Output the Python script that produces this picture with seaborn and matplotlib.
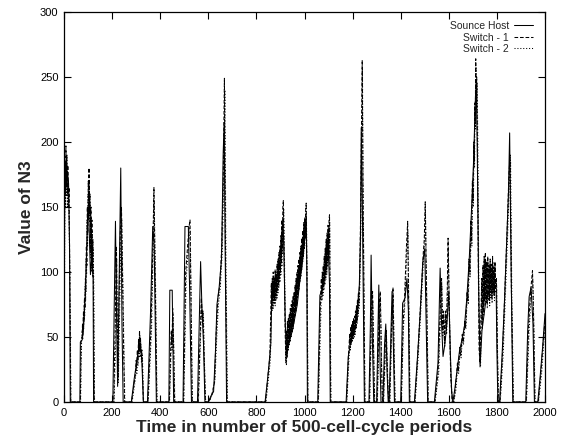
import pandas as pd
import matplotlib.pyplot as plt
import seaborn as sns

# (time, N3) points
source_host = [
    (0, 0), (3, 165), (7, 177), (11, 172), (15, 176), (19, 168), (23, 120), (26, 0),
    (66, 0), (68, 46), (76, 48), (82, 60), (88, 80), (94, 115), (98, 140), (102, 150), (106, 125),
    (110, 98), (114, 108), (118, 104), (121, 95), (123, 0),
    (203, 0), (214, 139), (219, 60), (223, 12), (236, 180), (241, 60), (246, 0),
    (280, 0), (292, 18), (302, 30), (310, 40), (318, 45), (324, 30), (330, 0),
    (347, 0), (360, 70), (369, 135), (375, 120), (384, 0),
    (436, 0), (440, 86), (450, 86), (453, 40), (456, 0),
    (495, 0), (503, 135), (517, 135), (522, 90), (530, 0),
    (555, 0), (568, 108), (574, 70), (580, 45), (586, 0),
    (600, 0), (612, 5), (622, 8), (630, 40), (636, 75), (645, 88), (655, 110), (662, 192), (666, 215),
    (670, 120), (676, 0),
    (836, 0), (845, 15), (852, 28), (860, 45), (864, 82), (872, 85), (880, 92), (888, 96), (896, 105),
    (904, 125), (910, 140), (914, 120), (920, 60), (926, 35), (934, 45), (942, 50), (950, 55), (960, 65),
    (970, 75), (980, 92), (990, 105), (1000, 125), (1007, 142), (1010, 95), (1012, 0),
    (1055, 0), (1064, 82), (1072, 86), (1080, 92), (1090, 110), (1098, 125), (1104, 90), (1107, 0),
    (1173, 0), (1182, 35), (1191, 45), (1200, 50), (1210, 58), (1220, 72), (1228, 90), (1233, 130),
    (1236, 211), (1240, 160), (1244, 90), (1249, 0),
    (1268, 0), (1274, 60), (1277, 113), (1282, 50), (1288, 0),
    (1300, 0), (1305, 50), (1309, 90), (1313, 40), (1318, 0),
    (1326, 0), (1333, 45), (1338, 60), (1343, 25), (1348, 0),
    (1352, 0), (1360, 55), (1364, 85), (1370, 40), (1374, 0),
    (1400, 0), (1408, 76), (1418, 80), (1426, 95), (1432, 70), (1436, 0),
    (1457, 0), (1470, 35), (1480, 65), (1492, 108), (1500, 118), (1506, 60), (1512, 0),
    (1540, 0), (1555, 30), (1564, 103), (1570, 60), (1576, 35), (1584, 45), (1592, 60), (1600, 85),
    (1606, 40), (1612, 8), (1617, 0),
    (1625, 10), (1635, 25), (1645, 40), (1655, 48), (1665, 58), (1675, 80), (1685, 110), (1695, 150),
    (1703, 185), (1710, 230), (1714, 247), (1718, 200), (1724, 90), (1730, 27),
    (1738, 55), (1745, 65), (1752, 75), (1760, 82), (1770, 85), (1780, 85), (1797, 85), (1800, 40), (1804, 0),
    (1811, 0), (1820, 30), (1830, 70), (1840, 120), (1848, 160), (1853, 207), (1858, 120), (1866, 0),
    (1920, 0), (1928, 55), (1934, 81), (1942, 88), (1950, 60), (1956, 0),
    (1970, 0), (1980, 20), (1990, 42), (2000, 68),
]

switch_1 = [
    (0, 0), (2, 140), (4, 185), (6, 160), (8, 197), (10, 165), (12, 190), (14, 160), (16, 182), (18, 150),
    (21, 165), (24, 100), (28, 0),
    (68, 0), (71, 48), (75, 50), (77, 60), (79, 52), (81, 70), (83, 62), (85, 80), (87, 72), (89, 95),
    (91, 85), (93, 120), (95, 105), (97, 150), (99, 130), (101, 170), (103, 150), (104, 180), (106, 145),
    (108, 160), (110, 115), (112, 150), (114, 105), (116, 140), (118, 100), (120, 125), (122, 95), (126, 0),
    (207, 0), (212, 50), (218, 120), (221, 70), (224, 20), (229, 80), (234, 130), (239, 150), (243, 100),
    (248, 40), (252, 0),
    (281, 0), (290, 12), (296, 20), (300, 32), (302, 26), (305, 40), (307, 32), (310, 48), (312, 38),
    (314, 55), (316, 40), (318, 50), (320, 35), (324, 40), (330, 0),
    (349, 0), (362, 60), (370, 125), (374, 165), (378, 110), (386, 0),
    (438, 0), (442, 30), (446, 55), (449, 45), (452, 72), (455, 50), (460, 0),
    (497, 0), (506, 100), (514, 120), (520, 135), (524, 140), (528, 80), (533, 0),
    (558, 0), (566, 50), (571, 80), (575, 65), (578, 70), (582, 40), (588, 0),
    (602, 0), (614, 5), (620, 10), (626, 15), (632, 50), (640, 80), (648, 90), (656, 120), (662, 170),
    (667, 249), (672, 100), (678, 0),
    (838, 0), (848, 20), (856, 35), (862, 91), (864, 75), (866, 95), (868, 78), (870, 100), (872, 80),
    (874, 96), (876, 78), (878, 102), (880, 82), (882, 98), (884, 84), (886, 106), (888, 86), (890, 110),
    (892, 90), (894, 115), (896, 95), (898, 120), (900, 100), (902, 128), (904, 108), (906, 140),
    (908, 118), (910, 150), (912, 155), (914, 130), (917, 90), (920, 50), (923, 30), (925, 55), (927, 38),
    (929, 62), (931, 42), (933, 65), (935, 45), (937, 68), (939, 48), (941, 72), (943, 50), (945, 75),
    (947, 55), (949, 78), (951, 58), (953, 82), (955, 60), (957, 85), (959, 66), (961, 90), (963, 70),
    (965, 95), (967, 74), (969, 100), (971, 80), (973, 105), (975, 85), (977, 110), (979, 90), (981, 115),
    (983, 95), (985, 120), (987, 100), (989, 126), (991, 108), (993, 132), (995, 112), (997, 138),
    (999, 118), (1001, 142), (1003, 125), (1005, 148), (1007, 153), (1010, 100), (1014, 0),
    (1057, 0), (1066, 75), (1070, 95), (1072, 82), (1074, 100), (1076, 86), (1078, 105), (1080, 90),
    (1082, 112), (1084, 94), (1086, 118), (1088, 98), (1090, 125), (1092, 102), (1094, 130), (1096, 108),
    (1098, 136), (1100, 112), (1102, 140), (1104, 144), (1106, 90), (1109, 0),
    (1175, 0), (1184, 40), (1188, 52), (1190, 44), (1192, 58), (1194, 46), (1196, 60), (1198, 48),
    (1200, 62), (1202, 50), (1204, 64), (1206, 52), (1208, 66), (1210, 55), (1212, 70), (1214, 58),
    (1216, 74), (1218, 62), (1220, 78), (1222, 68), (1224, 84), (1226, 76), (1229, 92), (1233, 140),
    (1237, 210), (1240, 263), (1243, 170), (1247, 80), (1251, 0),
    (1270, 0), (1278, 70), (1283, 85), (1287, 40), (1291, 0),
    (1302, 0), (1307, 40), (1311, 75), (1315, 85), (1320, 30), (1324, 0),
    (1328, 0), (1335, 40), (1340, 55), (1345, 20), (1350, 0),
    (1354, 0), (1362, 60), (1368, 88), (1372, 40), (1376, 0),
    (1402, 0), (1410, 60), (1416, 80), (1420, 100), (1424, 120), (1429, 139), (1433, 80), (1438, 0),
    (1459, 0), (1472, 40), (1484, 80), (1494, 115), (1498, 125), (1502, 154), (1507, 90), (1514, 0),
    (1542, 0), (1556, 25), (1566, 80), (1570, 95), (1574, 55), (1578, 70), (1582, 45), (1586, 70),
    (1590, 55), (1594, 90), (1597, 126), (1602, 70), (1608, 20), (1614, 0),
    (1620, 0), (1628, 12), (1636, 30), (1640, 24), (1646, 42), (1650, 36), (1656, 52), (1660, 46),
    (1666, 62), (1670, 58), (1676, 85), (1680, 78), (1684, 110), (1688, 100), (1692, 140), (1695, 125),
    (1698, 170), (1701, 155), (1704, 200), (1706, 185), (1708, 230), (1710, 215), (1712, 264), (1714, 230),
    (1716, 250), (1719, 200), (1722, 120), (1726, 40), (1730, 30),
    (1734, 70), (1737, 95), (1739, 60), (1742, 105), (1744, 70), (1747, 112), (1749, 78), (1752, 115),
    (1754, 80), (1757, 108), (1759, 76), (1762, 112), (1764, 82), (1767, 105), (1769, 78), (1772, 110),
    (1774, 84), (1777, 106), (1779, 80), (1782, 112), (1784, 86), (1787, 104), (1789, 82), (1792, 108),
    (1794, 88), (1798, 95), (1802, 40), (1806, 0),
    (1813, 0), (1824, 40), (1834, 90), (1844, 140), (1850, 175), (1855, 190), (1860, 90), (1868, 0),
    (1922, 0), (1932, 60), (1940, 85), (1948, 101), (1952, 70), (1958, 0),
    (1972, 0), (1984, 25), (1994, 50), (2000, 62),
]

switch_2 = [
    (0, 0), (3, 130), (5, 175), (7, 150), (9, 185), (11, 158), (13, 178), (15, 150), (18, 170), (21, 140),
    (25, 90), (29, 0),
    (69, 0), (73, 46), (76, 55), (78, 48), (80, 65), (82, 56), (84, 75), (86, 66), (88, 90), (90, 78),
    (92, 110), (94, 98), (96, 140), (98, 120), (100, 160), (102, 140), (105, 170), (107, 138), (109, 152),
    (111, 110), (113, 142), (115, 100), (117, 132), (119, 96), (121, 118), (124, 90), (127, 0),
    (208, 0), (214, 40), (219, 110), (222, 60), (226, 15), (231, 70), (236, 120), (240, 140), (245, 90),
    (250, 30), (253, 0),
    (283, 0), (291, 10), (297, 18), (301, 28), (303, 22), (306, 36), (308, 28), (311, 44), (313, 34),
    (315, 52), (317, 38), (319, 46), (322, 30), (326, 36), (331, 0),
    (350, 0), (364, 55), (371, 120), (375, 155), (380, 100), (387, 0),
    (439, 0), (443, 25), (447, 50), (450, 40), (453, 68), (456, 45), (461, 0),
    (498, 0), (508, 95), (516, 115), (521, 128), (525, 132), (529, 75), (534, 0),
    (559, 0), (567, 45), (572, 75), (576, 60), (580, 66), (583, 36), (589, 0),
    (603, 0), (616, 6), (622, 12), (628, 18), (634, 45), (642, 75), (650, 88), (658, 115), (664, 165),
    (669, 240), (674, 95), (680, 0),
    (840, 0), (850, 18), (858, 32), (864, 85), (866, 70), (868, 90), (870, 72), (872, 94), (874, 76),
    (876, 92), (878, 74), (880, 98), (882, 78), (884, 94), (886, 80), (888, 102), (890, 84), (892, 106),
    (894, 88), (896, 112), (898, 92), (900, 118), (902, 98), (904, 124), (906, 104), (908, 134),
    (910, 114), (912, 144), (914, 148), (916, 120), (919, 80), (922, 45), (925, 28), (927, 50), (929, 34),
    (931, 58), (933, 40), (935, 62), (937, 44), (939, 66), (941, 46), (943, 70), (945, 50), (947, 72),
    (949, 54), (951, 76), (953, 56), (955, 80), (957, 62), (959, 84), (961, 66), (963, 88), (965, 70),
    (967, 94), (969, 76), (971, 98), (973, 82), (975, 104), (977, 86), (979, 108), (981, 92), (983, 114),
    (985, 96), (987, 120), (989, 102), (991, 126), (993, 108), (995, 130), (997, 114), (999, 134),
    (1001, 120), (1003, 140), (1005, 128), (1008, 145), (1011, 90), (1015, 0),
    (1058, 0), (1068, 70), (1071, 88), (1073, 78), (1075, 95), (1077, 82), (1079, 100), (1081, 86),
    (1083, 106), (1085, 90), (1087, 112), (1089, 94), (1091, 118), (1093, 98), (1095, 124), (1097, 104),
    (1099, 130), (1101, 108), (1103, 134), (1105, 138), (1107, 80), (1110, 0),
    (1176, 0), (1186, 36), (1189, 48), (1191, 40), (1193, 54), (1195, 44), (1197, 56), (1199, 46),
    (1201, 58), (1203, 48), (1205, 60), (1207, 50), (1209, 63), (1211, 52), (1213, 66), (1215, 56),
    (1217, 70), (1219, 60), (1221, 74), (1223, 66), (1225, 80), (1227, 72), (1230, 88), (1234, 130),
    (1238, 200), (1241, 255), (1244, 160), (1248, 70), (1252, 0),
    (1271, 0), (1279, 62), (1284, 78), (1288, 35), (1292, 0),
    (1303, 0), (1308, 35), (1312, 70), (1316, 80), (1321, 25), (1325, 0),
    (1329, 0), (1336, 36), (1341, 50), (1346, 18), (1351, 0),
    (1355, 0), (1363, 55), (1369, 82), (1373, 35), (1377, 0),
    (1403, 0), (1411, 55), (1417, 75), (1421, 95), (1425, 112), (1430, 130), (1434, 75), (1439, 0),
    (1460, 0), (1474, 38), (1486, 78), (1495, 110), (1499, 120), (1503, 145), (1508, 85), (1515, 0),
    (1543, 0), (1558, 22), (1567, 75), (1571, 90), (1575, 50), (1579, 65), (1583, 42), (1587, 66),
    (1591, 52), (1595, 85), (1598, 118), (1603, 65), (1609, 18), (1615, 0),
    (1621, 0), (1630, 10), (1637, 28), (1641, 22), (1647, 40), (1651, 34), (1657, 50), (1661, 44),
    (1667, 60), (1671, 56), (1677, 82), (1681, 75), (1685, 105), (1689, 96), (1693, 135), (1696, 120),
    (1699, 165), (1702, 150), (1705, 195), (1707, 180), (1709, 225), (1711, 210), (1713, 258), (1715, 225),
    (1718, 245), (1721, 195), (1724, 110), (1728, 35), (1732, 28),
    (1735, 65), (1738, 90), (1740, 56), (1743, 100), (1745, 66), (1748, 108), (1750, 74), (1753, 110),
    (1755, 76), (1758, 104), (1760, 72), (1763, 108), (1765, 78), (1768, 100), (1770, 74), (1773, 106),
    (1775, 80), (1778, 102), (1780, 76), (1783, 108), (1785, 82), (1788, 100), (1790, 78), (1793, 104),
    (1795, 84), (1799, 90), (1803, 35), (1807, 0),
    (1814, 0), (1826, 36), (1836, 85), (1846, 135), (1852, 170), (1857, 185), (1862, 85), (1869, 0),
    (1923, 0), (1934, 55), (1942, 80), (1949, 95), (1953, 65), (1959, 0),
    (1973, 0), (1986, 22), (1995, 46), (2000, 58),
]

series_names = ["Sounce Host", "Switch - 1", "Switch - 2"]
x_ticks = list(range(0, 2001, 200))
y_ticks = list(range(0, 301, 50))

frames = []
for name, pts in zip(series_names, [source_host, switch_1, switch_2]):
    d = pd.DataFrame(pts, columns=["t", "n3"])
    d["series"] = name
    frames.append(d)
df = pd.concat(frames, ignore_index=True)

sns.set_style("ticks")
plt.rcParams["font.family"] = ["Liberation Sans", "DejaVu Sans"]

fig = plt.figure(figsize=(5.63, 4.46), dpi=100)
ax = fig.add_axes([64 / 563, 44 / 446, 481 / 563, 390 / 446])

sns.lineplot(data=df, x="t", y="n3", hue="series", style="series",
             palette={n: "black" for n in series_names},
             dashes={"Sounce Host": "", "Switch - 1": (3.5, 1.8), "Switch - 2": (1, 1.8)},
             estimator=None, sort=False, linewidth=0.75, ax=ax)

ax.set_xlim(0, 2000)
ax.set_ylim(0, 300)
ax.set_xticks(x_ticks)
ax.set_yticks(y_ticks)
ax.tick_params(direction="in", top=True, right=True, length=5, width=0.8,
               labelsize=8, pad=4, colors="black")
for s in ax.spines.values():
    s.set_linewidth(0.9)
    s.set_color("black")

ax.set_xlabel("Time in number of 500-cell-cycle periods", fontsize=12.5, fontweight="bold", labelpad=2)
ax.set_ylabel("Value of N3", fontsize=12.5, fontweight="bold", labelpad=4)

# gnuplot-style key: right-aligned labels with the line sample after them
handles, labels = ax.get_legend_handles_labels()
ax.legend(handles, labels, loc="upper right", bbox_to_anchor=(1 - 12 / 481, 1 - 9 / 390),
          frameon=False, markerfirst=False, fontsize=7.5, handlelength=1.8,
          handletextpad=0.5, labelspacing=0.15, borderpad=0, borderaxespad=0)

fig.savefig("out.png", dpi=100)
